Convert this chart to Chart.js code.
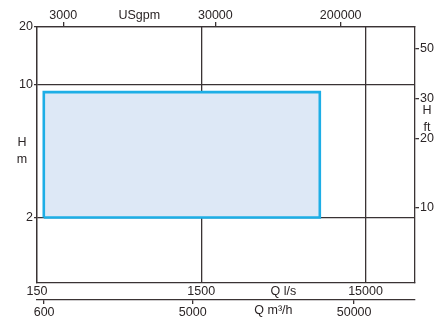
<!DOCTYPE html>
<html>
<head>
<meta charset="utf-8">
<script src="https://cdn.jsdelivr.net/npm/chart.js@4"></script>
<style>
  html, body { margin: 0; padding: 0; background: #fff; }
  #wrap { width: 436px; height: 320px; }
</style>
</head>
<body>
<div id="wrap"><canvas id="chart" width="436" height="320"></canvas></div>
<script>
'use strict';

// ── Data ──────────────────────────────────────────────────────
const LS_TICKS   = [150, 1500, 15000];      // Q l/s
const M3H_TICKS  = [600, 5000, 50000];      // Q m³/h
const GPM_TICKS  = [3000, 30000, 200000];   // USgpm
const HM_TICKS   = [2, 10, 20];             // H m
const HFT_TICKS  = [10, 20, 30, 50];        // H ft

const RANGE_Q = [165, 7900];  // l/s, left and right edge of the working range
const RANGE_H = [2, 9.1];     // m, bottom and top edge

// ── Style ─────────────────────────────────────────────────────
const INK   = '#2b2526';
const LINE  = '#3a3334';
const FONT  = { family: "'Liberation Sans', Arial, sans-serif", size: 12.5 };

// outline of the range (closed)
const outlinePoints = [
  { x: RANGE_Q[0], y: RANGE_H[0] },
  { x: RANGE_Q[0], y: RANGE_H[1] },
  { x: RANGE_Q[1], y: RANGE_H[1] },
  { x: RANGE_Q[1], y: RANGE_H[0] },
  { x: RANGE_Q[0], y: RANGE_H[0] },
];
// top edge, filled down to the bottom head value
const fillPoints = [
  { x: RANGE_Q[0], y: RANGE_H[1] },
  { x: RANGE_Q[1], y: RANGE_H[1] },
];

const setTicks = list => scale => { scale.ticks = list.map(v => ({ value: v })); };
const label    = v => String(v);

// axis titles drawn in the tick-label rows, halfway between two ticks
const TITLES = [
  { axis: 'xgpm', between: [3000, 30000],  lines: ['USgpm'] },
  { axis: 'xls',  between: [1500, 15000],  lines: ['Q l/s'] },
  { axis: 'xm3',  between: [5000, 50000],  lines: ['Q m³/h'] },
  { axis: 'yhm',  between: [10, 2],        lines: ['H', 'm'] },
  { axis: 'yft',  between: [30, 20],       lines: ['H', 'ft'] },
];

const titlePlugin = {
  id: 'axisTitles',
  afterDraw(chart) {
    const ctx = chart.ctx;
    ctx.save();
    ctx.fillStyle = INK;
    ctx.font = `${FONT.size}px ${FONT.family}`;
    ctx.textAlign = 'center';
    ctx.textBaseline = 'middle';
    TITLES.forEach(t => {
      const s = chart.scales[t.axis];
      const mid = (s.getPixelForValue(t.between[0]) + s.getPixelForValue(t.between[1])) / 2;
      if (s.isHorizontal()) {
        let y;
        if (s.position === 'top') y = s.bottom - 11.5;
        else y = s.top + (t.axis === 'xls' ? 8.5 : 10.5);
        ctx.fillText(t.lines[0], mid, y);
      } else {
        const x = s.position === 'left' ? s.right - 15 : s.left + 12;
        const step = 17;
        t.lines.forEach((ln, i) => {
          ctx.fillText(ln, x, mid + (i - (t.lines.length - 1) / 2) * step);
        });
      }
    });
    ctx.restore();
  }
};

new Chart(document.getElementById('chart').getContext('2d'), {
  type: 'scatter',
  data: {
    datasets: [
      {
        data: outlinePoints,
        showLine: true,
        tension: 0,
        fill: false,
        borderColor: '#1daee6',
        borderWidth: 2.6,
        borderJoinStyle: 'miter',
        pointRadius: 0,
        xAxisID: 'xls',
        yAxisID: 'yhm',
      },
      {
        data: fillPoints,
        showLine: true,
        tension: 0,
        fill: { value: RANGE_H[0] },
        backgroundColor: '#dde8f6',
        borderWidth: 0,
        borderColor: 'rgba(0,0,0,0)',
        pointRadius: 0,
        xAxisID: 'xls',
        yAxisID: 'yhm',
      },
    ],
  },
  options: {
    responsive: false,
    animation: false,
    layout: { padding: 0 },
    plugins: { legend: { display: false }, tooltip: { enabled: false } },
    scales: {
      xls: {
        axis: 'x', type: 'logarithmic', position: 'bottom',
        min: 150, max: 30000,
        afterBuildTicks: setTicks(LS_TICKS),
        afterFit: s => { s.height = 17; },
        grid: { color: LINE, lineWidth: 1.3, drawTicks: false },
        border: { color: LINE, width: 1.3 },
        ticks: { callback: label, color: INK, font: FONT, padding: 1, maxRotation: 0, autoSkip: false },
      },
      xm3: {
        axis: 'x', type: 'logarithmic', position: 'bottom',
        min: 542, max: 119200,
        afterBuildTicks: setTicks(M3H_TICKS),
        afterFit: s => { s.height = 20; },
        grid: { color: LINE, lineWidth: 1.3, drawOnChartArea: false, tickLength: 4 },
        border: { color: LINE, width: 1.3 },
        ticks: { callback: label, color: INK, font: FONT, padding: 1, maxRotation: 0, autoSkip: false },
      },
      xgpm: {
        axis: 'x', type: 'logarithmic', position: 'top',
        min: 2016, max: 616000,
        afterBuildTicks: setTicks(GPM_TICKS),
        afterFit: s => { s.height = 27; },
        grid: { color: LINE, lineWidth: 1.3, drawOnChartArea: false, tickLength: 5 },
        border: { color: LINE, width: 1.3 },
        ticks: { callback: label, color: INK, font: FONT, padding: -1.5, maxRotation: 0, autoSkip: false },
      },
      yhm: {
        axis: 'y', type: 'logarithmic', position: 'left',
        min: 0.906, max: 20,
        afterBuildTicks: setTicks(HM_TICKS),
        afterFit: s => { s.width = 37; },
        grid: { color: LINE, lineWidth: 1.3, tickLength: 3 },
        border: { color: LINE, width: 1.3 },
        ticks: { callback: label, color: INK, font: FONT, padding: 1, autoSkip: false },
      },
      yft: {
        axis: 'y', type: 'logarithmic', position: 'right',
        min: 4.67, max: 62,
        afterBuildTicks: setTicks(HFT_TICKS),
        afterFit: s => { s.width = 21; },
        grid: { color: LINE, lineWidth: 1.3, drawOnChartArea: false, tickLength: 4 },
        border: { color: LINE, width: 1.3 },
        ticks: { callback: label, color: INK, font: FONT, padding: 1, autoSkip: false },
      },
    },
  },
  plugins: [titlePlugin],
});
</script>
</body>
</html>
